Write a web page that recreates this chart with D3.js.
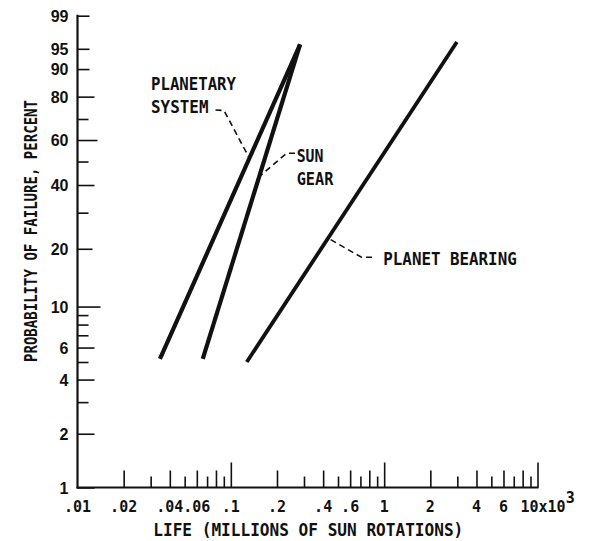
<!DOCTYPE html>
<html>
<head>
<meta charset="utf-8">
<script src="https://cdn.jsdelivr.net/npm/d3@7"></script>
<style>
  html, body { margin: 0; padding: 0; background: #fff; }
  svg { display: block; }
  .mono { font-family: "DejaVu Sans Mono", "Liberation Mono", monospace; font-weight: bold; fill: #111; }
  .ylab { font-family: "Liberation Sans", Arial, sans-serif; font-weight: bold; fill: #111; }
</style>
</head>
<body>
<svg id="chart" width="593" height="541"></svg>
<script>
// ---------- data ----------
const yTickValues = [1, 2, 3, 4, 5, 6, 7, 8, 9, 10, 20, 30, 40, 50, 60, 70, 80, 90, 95, 99];
const yTickLabels = ["1", "2", "", "4", "", "6", "", "", "", "10", "20", "", "40", "", "60", "", "80", "90", "95", "99"];
const xTickValues = [0.02, 0.03, 0.04, 0.05, 0.06, 0.07, 0.08, 0.09, 0.1,
                     0.2, 0.3, 0.4, 0.5, 0.6, 0.7, 0.8, 0.9, 1,
                     2, 3, 4, 5, 6, 7, 8, 9, 10];
const xLabelValues = [0.01, 0.02, 0.04, 0.06, 0.1, 0.2, 0.4, 0.6, 1, 2, 4, 6];
const xLabelTexts  = [".01", ".02", ".04", ".06", ".1", ".2", ".4", ".6", "1", "2", "4", "6"];
// [life (millions of sun rotations, x10^3), probability of failure (%)]
const planetarySystem = [[0.0345, 5.2], [0.283, 95.8]];
const sunGear         = [[0.0656, 5.2], [0.283, 95.8]];
const planetBearing   = [[0.127, 5.0], [2.98, 96.2]];
const seriesNames = ["PLANETARY SYSTEM", "SUN GEAR", "PLANET BEARING"];

// ---------- scales ----------
const svg = d3.select("#chart");
const wb = p => Math.log(-Math.log(1 - p / 100));   // Weibull probability transform
const x = d3.scaleLog().domain([0.01, 10]).range([77.5, 537.5]);
const y = d3.scaleLinear().domain([wb(1), wb(99)]).range([487.5, 15.7]);
const X0 = x.range()[0], Y0 = y.range()[0];

// ---------- y axis ----------
const yLen = v => v === 10 ? 23 : v === 60 ? 20 : (v >= 90 ? 12 : v === 20 ? 15 :
                 (yTickLabels[yTickValues.indexOf(v)] ? 17 : 11));
const yAxis = d3.axisLeft(y)
  .tickValues(yTickValues.map(wb))
  .tickFormat((d, i) => yTickLabels[i])
  .tickSizeOuter(0);
const gy = svg.append("g").attr("transform", `translate(${X0},0)`).call(yAxis);
gy.select(".domain").remove();
gy.selectAll(".tick line")
  .attr("x1", 0).attr("x2", (d, i) => yLen(yTickValues[i]))
  .attr("stroke", "#111").attr("stroke-width", 1.6);
gy.selectAll(".tick text")
  .attr("class", "ylab").attr("x", -9).attr("dy", "0.36em")
  .style("font-size", "16px");
svg.append("line")
  .attr("x1", X0).attr("x2", X0).attr("y1", y(wb(99)) - 1).attr("y2", Y0 + 1)
  .attr("stroke", "#111").attr("stroke-width", 2.2);

// ---------- x axis ----------
const isDecade = v => Math.abs(Math.log10(v) - Math.round(Math.log10(v))) < 1e-9;
const lead = v => Math.round(v / Math.pow(10, Math.floor(Math.log10(v) + 1e-9)));
const xLen = v => isDecade(v) ? 25 : (lead(v) % 2 === 0 ? 17 : 11);
const xAxis = d3.axisBottom(x).tickValues(xTickValues).tickFormat("").tickSizeOuter(0);
const gx = svg.append("g").attr("transform", `translate(0,${Y0})`).call(xAxis);
gx.select(".domain").remove();
gx.selectAll(".tick line")
  .attr("y1", 0).attr("y2", d => -xLen(d))
  .attr("stroke", "#111").attr("stroke-width", 1.6);
svg.append("line")
  .attr("x1", X0 - 1).attr("x2", x(10) + 1).attr("y1", Y0).attr("y2", Y0)
  .attr("stroke", "#111").attr("stroke-width", 2.2);

svg.append("g").selectAll("text").data(xLabelValues).join("text")
  .attr("class", "mono")
  .attr("x", d => x(d)).attr("y", 511.5)
  .attr("text-anchor", "middle")
  .style("font-size", "15px")
  .text((d, i) => xLabelTexts[i]);
const last = svg.append("text").attr("class", "mono")
  .attr("x", x(10) - 17).attr("y", 511.5).style("font-size", "15px");
last.append("tspan").text("10x10");
last.append("tspan").attr("dy", -9).text("3");

// ---------- axis titles ----------
svg.append("text").attr("class", "mono")
  .attr("x", 153.3).attr("y", 535.5)
  .attr("textLength", 310).attr("lengthAdjust", "spacingAndGlyphs")
  .style("font-size", "17.5px")
  .text("LIFE (MILLIONS OF SUN ROTATIONS)");
svg.append("text").attr("class", "mono")
  .attr("transform", "translate(36.5,362) rotate(-90)")
  .attr("textLength", 262).attr("lengthAdjust", "spacingAndGlyphs")
  .style("font-size", "18px")
  .text("PROBABILITY OF FAILURE, PERCENT");

// ---------- series ----------
const line = d3.line().x(d => x(d[0])).y(d => y(wb(d[1])));
const allSeries = [planetarySystem, sunGear, planetBearing];
svg.append("g").selectAll("path").data(allSeries).join("path")
  .attr("d", line)
  .attr("fill", "none").attr("stroke", "#111")
  .attr("stroke-width", (d, i) => i === 2 ? 3.8 : 4.2)
  .attr("stroke-linecap", "butt");

// point on a series at a given probability (interpolated in plot space)
function pointAt(series, p) {
  const a = series[0], b = series[series.length - 1];
  const t = (wb(p) - wb(a[1])) / (wb(b[1]) - wb(a[1]));
  const lx = Math.log10(a[0]) + t * (Math.log10(b[0]) - Math.log10(a[0]));
  return [x(Math.pow(10, lx)), y(wb(p))];
}

// ---------- annotations ----------
function label(txt, tx, ty, w) {
  svg.append("text").attr("class", "mono")
    .attr("x", tx).attr("y", ty)
    .attr("textLength", w).attr("lengthAdjust", "spacingAndGlyphs")
    .style("font-size", "18px").text(txt);
}
label("PLANETARY", 151, 90, 85);
label("SYSTEM", 151, 113.3, 57.5);
label("SUN", 296.7, 161.7, 26.7);
label("GEAR", 296.7, 185, 36.7);
label("PLANET BEARING", 383.3, 265, 133.4);

const leaders = [
  [[215.5, 110], [224, 110.5], pointAt(planetarySystem, 51.5)],
  [[295, 153.3], [286.5, 153.3], pointAt(sunGear, 43.4)],
  [[372, 257.3], [361.5, 257.3], pointAt(planetBearing, 22.6)]
];
svg.append("g").selectAll("path").data(leaders).join("path")
  .attr("d", d3.line())
  .attr("fill", "none").attr("stroke", "#111")
  .attr("stroke-width", 1.6).attr("stroke-dasharray", "6,4");
</script>
</body>
</html>
